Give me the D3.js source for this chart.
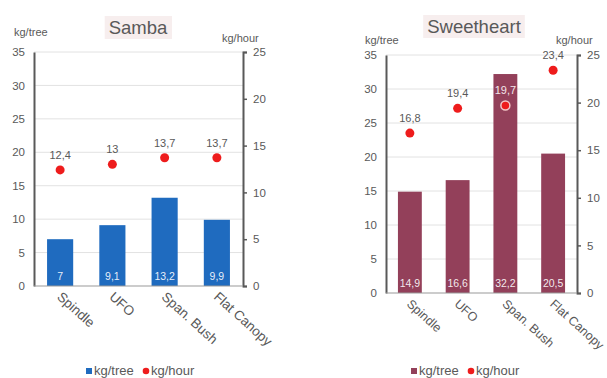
<!DOCTYPE html>
<html>
<head>
<meta charset="utf-8">
<script src="https://cdn.jsdelivr.net/npm/d3@7"></script>
<style>
  html, body { margin: 0; padding: 0; background: #fff; }
  svg { display: block; font-family: "Liberation Sans", Arial, sans-serif; }
</style>
</head>
<body>
<svg id="chart" width="607" height="378"></svg>
<script>
// Training systems compared for two cherry cultivars
const categories = ["Spindle", "UFO", "Span. Bush", "Flat Canopy"];
const sambaKgTree = [7, 9.1, 13.2, 9.9];
const sambaKgHour = [12.4, 13, 13.7, 13.7];
const sweetKgTree = [14.9, 16.6, 32.2, 20.5];
const sweetKgHour = [16.8, 19.4, 19.7, 23.4];
const leftTicks = [0, 5, 10, 15, 20, 25, 30, 35];
const rightTicks = [0, 5, 10, 15, 20, 25];

const svg = d3.select("#chart");
const fmt = v => String(v).replace(".", ",");

function panel(opt) {
  const g = svg.append("g");
  const x = d3.scaleBand().domain(categories).range([opt.x0, opt.x1]).paddingInner(0.5).paddingOuter(0.25);
  const yL = d3.scaleLinear().domain([0, 35]).range([opt.y1, opt.y0]);
  const yR = d3.scaleLinear().domain([0, 25]).range([opt.y1, opt.y0]);

  // gridlines
  g.append("g").selectAll("line").data(leftTicks.slice(1)).join("line")
    .attr("x1", opt.x0).attr("x2", opt.x1)
    .attr("y1", d => yL(d)).attr("y2", d => yL(d))
    .attr("stroke", "#e2e2e2").attr("stroke-width", 1);

  // bars
  g.append("g").selectAll("rect").data(opt.bars).join("rect")
    .attr("x", (d, i) => x(categories[i]))
    .attr("width", x.bandwidth())
    .attr("y", d => yL(d))
    .attr("height", d => yL(0) - yL(d))
    .attr("fill", opt.color);

  // bar value labels
  g.append("g").selectAll("text").data(opt.bars).join("text")
    .attr("x", (d, i) => x(categories[i]) + x.bandwidth() / 2)
    .attr("y", yL(0) - 6)
    .attr("text-anchor", "middle")
    .attr("font-size", 10.5)
    .attr("fill", "#fff")
    .attr("fill-opacity", 0.9)
    .text(fmt);

  // axes
  const axL = d3.axisLeft(yL).tickValues(leftTicks).tickSize(0).tickPadding(9);
  const gl = g.append("g").attr("transform", `translate(${opt.x0},0)`).call(axL);
  gl.select(".domain").attr("stroke", "#595959").attr("stroke-width", 2);
  gl.selectAll("text").attr("font-size", 11.5).attr("fill", "#595959").attr("font-family", "Liberation Sans, Arial, sans-serif");

  const axR = d3.axisRight(yR).tickValues(rightTicks).tickSize(4).tickSizeOuter(4).tickPadding(6);
  const gr = g.append("g").attr("transform", `translate(${opt.x1},0)`).call(axR);
  gr.select(".domain").attr("stroke", "#595959").attr("stroke-width", 2);
  gr.selectAll(".tick line").attr("stroke", "#595959").attr("stroke-width", 1.5);
  gr.selectAll("text").attr("font-size", 11.5).attr("fill", "#595959").attr("font-family", "Liberation Sans, Arial, sans-serif");

  // baseline
  g.append("line").attr("x1", opt.x0).attr("x2", opt.x1)
    .attr("y1", yL(0)).attr("y2", yL(0))
    .attr("stroke", "#9a9a9a").attr("stroke-width", 1.2);

  // category labels, rotated
  g.append("g").selectAll("text").data(categories).join("text")
    .attr("transform", d => `translate(${x(d) + x.bandwidth() / 2 - 4},${yL(0) + 12}) rotate(42)`)
    .attr("font-size", opt.catSize)
    .attr("fill", "#595959")
    .text(d => d);

  // kg/hour points
  const pts = g.append("g");
  pts.selectAll("circle").data(opt.dots).join("circle")
    .attr("cx", (d, i) => x(categories[i]) + x.bandwidth() / 2)
    .attr("cy", d => yR(d))
    .attr("r", 4.5)
    .attr("fill", "#ee1c1c")
    .attr("stroke", (d, i) => yL(opt.bars[i]) < yR(d) - 12 ? "#f4c7c7" : "none")
    .attr("stroke-width", 1.5);
  pts.selectAll("text").data(opt.dots).join("text")
    .attr("x", (d, i) => x(categories[i]) + x.bandwidth() / 2)
    .attr("y", d => yR(d) - 11)
    .attr("text-anchor", "middle")
    .attr("font-size", 11)
    .attr("fill", (d, i) => yL(opt.bars[i]) < yR(d) - 20 ? "#f3e6ea" : "#595959")
    .text(fmt);

  // title
  const tb = g.append("rect").attr("fill", "#f7eeee");
  const t = g.append("text")
    .attr("x", opt.titleX).attr("y", opt.titleY)
    .attr("text-anchor", "middle")
    .attr("font-size", 18.5)
    .attr("fill", "#595959")
    .text(opt.title);
  const bb = t.node().getBBox();
  tb.attr("x", bb.x - 4).attr("y", bb.y - 1).attr("width", bb.width + 8).attr("height", bb.height + 2);

  // axis titles
  g.append("text").attr("x", opt.ltX).attr("y", opt.ltY)
    .attr("font-size", 11).attr("fill", "#595959").text("kg/tree");
  g.append("text").attr("x", opt.rtX).attr("y", opt.rtY)
    .attr("font-size", 11).attr("fill", "#595959").text("kg/hour");

  // legend
  const lg = g.append("g").attr("transform", `translate(${opt.legX},${opt.legY})`);
  lg.append("rect").attr("x", 0).attr("y", -7).attr("width", 6).attr("height", 6).attr("fill", opt.color);
  lg.append("text").attr("x", 8).attr("y", 0).attr("font-size", 13).attr("fill", "#595959").text("kg/tree");
  lg.append("circle").attr("cx", 60).attr("cy", -4).attr("r", 3.3).attr("fill", "#ee1c1c");
  lg.append("text").attr("x", 65).attr("y", 0).attr("font-size", 13).attr("fill", "#595959").text("kg/hour");
}

panel({
  title: "Samba", titleX: 138, titleY: 34,
  x0: 34, x1: 243, y0: 52, y1: 286,
  bars: sambaKgTree, dots: sambaKgHour, color: "#1f6bbf", catSize: 13.5,
  ltX: 14, ltY: 36, rtX: 222, rtY: 42,
  legX: 86, legY: 375
});

panel({
  title: "Sweetheart", titleX: 474, titleY: 33,
  x0: 386, x1: 577, y0: 55, y1: 293,
  bars: sweetKgTree, dots: sweetKgHour, color: "#93405a", catSize: 12.5,
  ltX: 365, ltY: 44, rtX: 556, rtY: 44,
  legX: 411, legY: 375
});
</script>
</body>
</html>
